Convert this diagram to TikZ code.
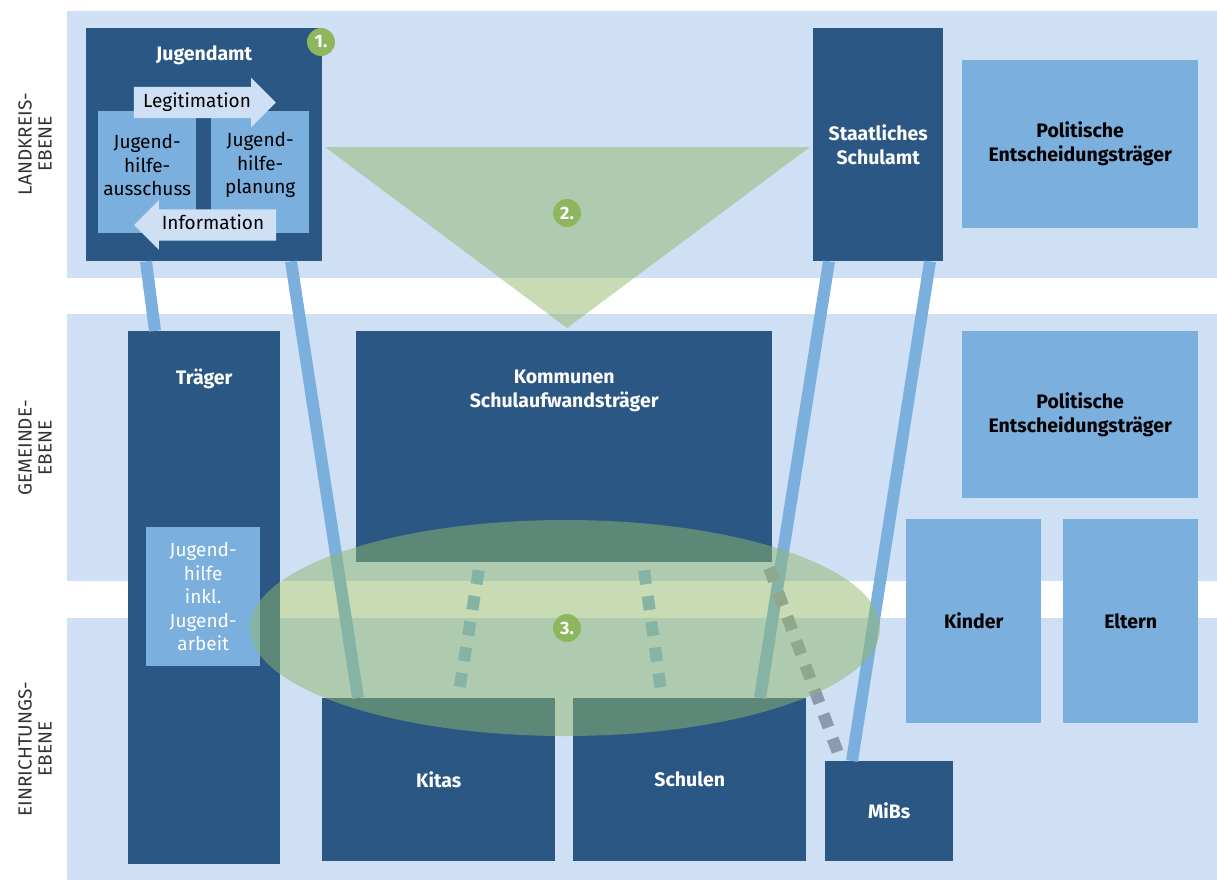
\documentclass[tikz,border=0pt]{standalone}
\usepackage{fontspec}
\setmainfont{Fira Sans}
\usetikzlibrary{shapes.arrows}
\definecolor{bandblue}{HTML}{CFE0F4}
\definecolor{darkblue}{HTML}{2A5783}
\definecolor{midblue}{HTML}{7AAFDE}
\definecolor{zonegreen}{HTML}{91B76B}
\definecolor{badgegreen}{HTML}{8DB65F}
\definecolor{dotgrey}{HTML}{8D9AAE}
\definecolor{labelgrey}{HTML}{333333}
\newcommand\boxfont{\fontsize{19.5}{24}\selectfont\bfseries}
\newcommand\plainfont{\fontsize{19}{23.5}\selectfont}
\begin{document}
\begin{tikzpicture}[x=1pt,y=-1pt]
	\tikzstyle{level}=[rotate=90,align=center,text=labelgrey,font=\fontsize{19}{20}\selectfont]
	\tikzstyle{box}=[rectangle,anchor=north west,inner sep=0pt,align=center]
	\tikzstyle{darkbox}=[box,fill=darkblue,text=white,font=\boxfont]
	\tikzstyle{lightbox}=[box,fill=midblue,text=black,font=\boxfont]
	\tikzstyle{flow}=[single arrow,fill=bandblue,text=black,font=\plainfont,
		text height=13pt,text depth=4pt,inner xsep=4pt,inner ysep=7pt,
		single arrow head extend=9pt,minimum height=142pt]
	\tikzstyle{link}=[midblue,line width=12pt]
	\tikzstyle{dotlink}=[midblue,line width=12pt,dash pattern=on 14pt off 12pt]
	\tikzstyle{zone}=[fill=zonegreen,fill opacity=0.5]
	\tikzstyle{badge}=[circle,fill=badgegreen,text=white,minimum size=28pt,inner sep=0pt,
		font=\fontsize{18}{18}\selectfont\bfseries]
	\useasboundingbox (0,0) rectangle (1217,880);
	
	% ebenen
	\fill[bandblue] (67,11)  rectangle (1217,278);
	\fill[bandblue] (67,314) rectangle (1217,581);
	\fill[bandblue] (67,618) rectangle (1217,880);
	\node[level] (landkreis)   at (35,144) {LANDKREIS-\\EBENE};
	\node[level] (gemeinde)    at (35,448) {GEMEINDE-\\EBENE};
	\node[level] (einrichtung) at (35,749) {EINRICHTUNGS-\\EBENE};
	
	% landkreis
	\node[darkbox,minimum width=236pt,minimum height=233pt,
		label={[anchor=center,yshift=-27pt,text=white,font=\boxfont]north:Jugendamt}]
		(jugendamt) at (86,28) {};
	\node[lightbox,minimum width=98pt,minimum height=122pt,
		label={[anchor=center,yshift=7pt,align=center,font=\plainfont]center:Jugend-\\hilfe-\\ausschuss}]
		(ausschuss) at (98,111) {};
	\node[lightbox,minimum width=98pt,minimum height=122pt,
		label={[anchor=center,yshift=7pt,align=center,font=\plainfont]center:Jugend-\\hilfe-\\planung}]
		(planung) at (211,111) {};
	\node[flow] (legitimation) at (197,102.5) {Legitimation};
	\node[flow,shape border rotate=180] (information) at (213,225) {Information};
	\node[darkbox,minimum width=130pt,minimum height=233pt] (schulamt) at (813,28) {Staatliches\\Schulamt};
	\node[lightbox,minimum width=236pt,minimum height=168pt] (politik-lk) at (962,60) {Politische\\Entscheidungsträger};
	
	% gemeinde
	\node[darkbox,minimum width=152pt,minimum height=533pt,
		label={[anchor=center,yshift=-48pt,text=white,font=\boxfont]north:Träger}]
		(traeger) at (128,331) {};
	\node[lightbox,minimum width=114pt,minimum height=139pt,text=white,font=\plainfont]
		(jugendhilfe) at (146,527) {Jugend-\\hilfe\\inkl.\\Jugend-\\arbeit};
	\node[darkbox,minimum width=416pt,minimum height=231pt,
		label={[anchor=center,yshift=-60pt,text=white,font=\boxfont,align=center]north:Kommunen\\Schulaufwandsträger}]
		(kommunen) at (356,331) {};
	\node[lightbox,minimum width=236pt,minimum height=167pt] (politik-gm) at (962,331) {Politische\\Entscheidungsträger};
	
	% einrichtung
	\node[lightbox,minimum width=135pt,minimum height=204pt] (kinder) at (906,519) {Kinder};
	\node[lightbox,minimum width=135pt,minimum height=204pt] (eltern) at (1063,519) {Eltern};
	\node[darkbox,minimum width=233pt,minimum height=163pt] (kitas) at (322,698) {Kitas};
	\node[darkbox,minimum width=233pt,minimum height=163pt] (schulen) at (573,698) {Schulen};
	\node[darkbox,minimum width=128pt,minimum height=100pt] (mibs) at (825,761) {MiBs};
	
	\draw[link] ([xshift=60pt]jugendamt.south west) -- ([xshift=27pt]traeger.north west);
	\draw[link] ([xshift=205pt]jugendamt.south west) -- ([xshift=36pt]kitas.north west);
	\draw[link] ([xshift=16pt]schulamt.south west) -- ([xshift=187pt]schulen.north west);
	\draw[link] ([xshift=117pt]schulamt.south west) -- ([xshift=27pt]mibs.north west);
	\draw[dotlink,shorten <=8pt,shorten >=8pt] ([xshift=124pt]kommunen.south west) -- ([xshift=136pt]kitas.north west);
	\draw[dotlink,shorten <=8pt,shorten >=8pt] ([xshift=287pt]kommunen.south west) -- ([xshift=89pt]schulen.north west);
	\draw[dotlink,dotgrey,shorten <=6pt,shorten >=2pt] ([xshift=411pt]kommunen.south west) -- ([xshift=16pt]mibs.north west);
	
	% zonen
	\fill[zone] (325,147) -- (810,147) -- (567,328) -- cycle;
	\fill[zone] (565,628) ellipse [x radius=315,y radius=108];
	\node[badge] (b1) at (321,42)  {1.};
	\node[badge] (b2) at (567,213) {2.};
	\node[badge] (b3) at (567,628) {3.};
\end{tikzpicture}
\end{document}
